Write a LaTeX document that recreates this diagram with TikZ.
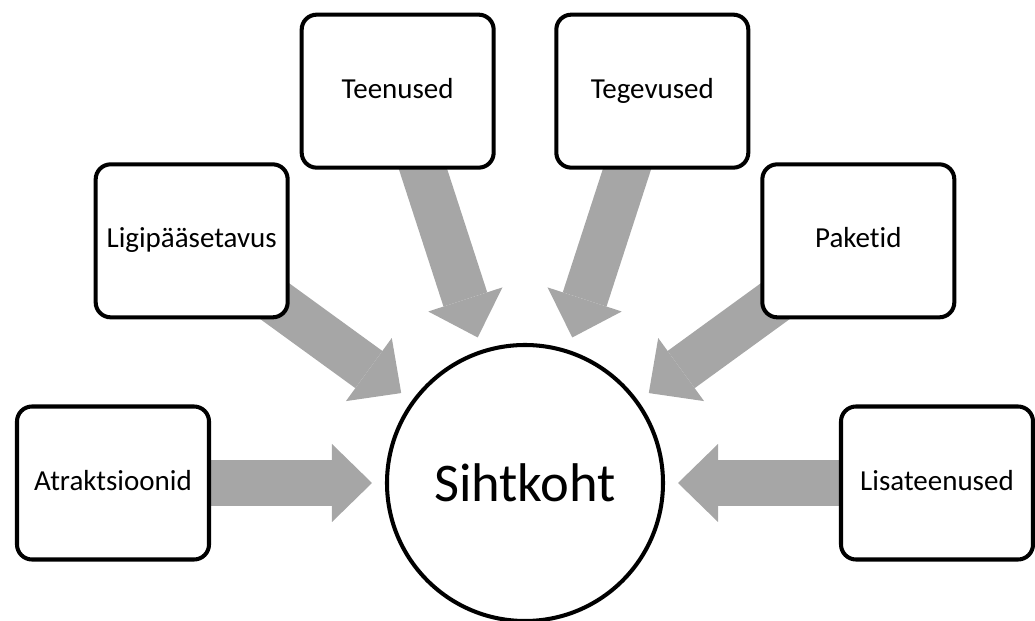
\documentclass[tikz,border=0pt]{standalone}
\usepackage{fontspec}
\setmainfont{Carlito}[Ligatures=NoCommon]
\usetikzlibrary{arrows.meta,backgrounds}
\definecolor{arrowgray}{HTML}{A6A6A6}

\begin{document}
\begin{tikzpicture}[
    box/.style={draw, line width=2.3pt, rounded corners=0.3cm, fill=white,
        minimum width=3.84cm, minimum height=3.06cm, text height=11.5pt, text depth=3.5pt,
        font=\fontsize{16.5}{20}\selectfont},
    flow/.style={arrowgray, line width=0.92cm, shorten >=0.3cm,
        -{Triangle[width=1.56cm, length=0.8cm, line width=0pt]}}
]
    % Page size (the destination circle sits at the origin)
    \useasboundingbox (-10.5,-2.76) rectangle (10.2,9.66);

    % Destination in the middle
    \node[circle, draw, line width=2.3pt, minimum size=5.52cm, outer sep=0pt,
        font=\fontsize{31}{37}\selectfont] (hub) at (0,0) {Sihtkoht};

    % Components round the destination, one every 36 degrees
    \foreach \ang/\name/\txt in {180/atr/Atraktsioonid, 144/lig/Ligipääsetavus,
        108/teen/Teenused, 72/teg/Tegevused, 36/pak/Paketid, 0/lisa/Lisateenused} {
        \node[box] (\name) at (\ang:8.24) {\txt}; % Component box
    }

    % Gray arrows from each component into the destination
    \begin{scope}[on background layer]
        \foreach \name in {atr, lig, teen, teg, pak, lisa} {
            \draw[flow] (\name.center) -- (hub);
        }
    \end{scope}
\end{tikzpicture}
\end{document}
